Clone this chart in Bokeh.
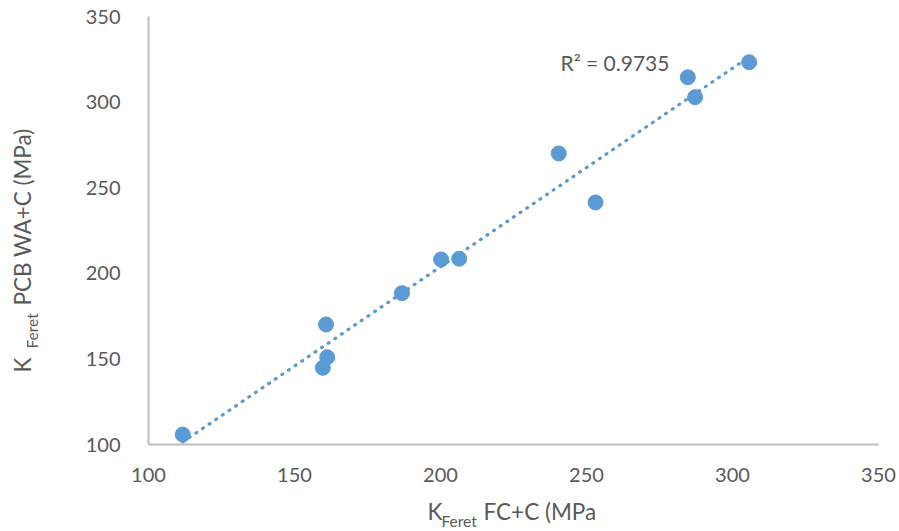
import numpy as np
from bokeh.plotting import figure
from bokeh.models import Range1d, FixedTicker, Label
from bokeh.layouts import row, column
from bokeh.core.properties import value
from bokeh.embed import file_html
from bokeh.resources import INLINE

# Data
kferet_fc = [111.7, 159.7, 161.2, 160.8, 186.8, 200.2, 206.4, 240.5, 253.1, 284.7, 287.2, 305.7]
kferet_pcb = [105.8, 144.8, 151.0, 170.1, 188.4, 208.1, 208.5, 270.0, 241.4, 314.5, 302.9, 323.3]
ticks = [100, 150, 200, 250, 300, 350]
r2_text = "R\u00b2 = 0.9735"
x_title = ["K", "Feret", "FC+C (MPa"]
y_title = ["K", "Feret", "PCB WA+C (MPa)"]

BLUE = "#5B9BD5"
GREY_TEXT = "#595959"
AXIS = "#BFBFBF"
FONT = "Lato"

TOTAL_W, TOTAL_H = 899, 531
YT_W = 50          # width of the y-title strip
XT_H = 41          # height of the x-title strip
MAIN_W = TOTAL_W - YT_W
MAIN_H = TOTAL_H - XT_H
FRAME_L, FRAME_R = 148, 878

p = figure(width=MAIN_W, height=MAIN_H, output_backend="svg", toolbar_location=None,
           x_range=Range1d(100, 350), y_range=Range1d(100, 350),
           min_border_left=FRAME_L - YT_W, min_border_right=TOTAL_W - FRAME_R,
           min_border_top=16, min_border_bottom=MAIN_H - 444)
p.outline_line_color = None
p.grid.visible = False

for ax in (p.xaxis[0], p.yaxis[0]):
    ax.ticker = FixedTicker(ticks=ticks)
    ax.axis_line_color = AXIS
    ax.axis_line_width = 2
    ax.major_tick_line_color = None
    ax.minor_tick_line_color = None
    ax.major_tick_out = 0
    ax.major_tick_in = 0
    ax.major_label_text_font = FONT
    ax.major_label_text_font_size = "20px"
    ax.major_label_text_color = GREY_TEXT
p.xaxis.major_label_standoff = 23
p.yaxis.major_label_standoff = 28

# trendline (linear least squares from the data)
xs = np.array(kferet_fc)
ys = np.array(kferet_pcb)
m, b = np.polyfit(xs, ys, 1)
tx = [xs.min(), xs.max()]
ty = [m * tx[0] + b, m * tx[1] + b]
p.line(tx, ty, line_color=BLUE, line_width=3.2, line_dash="1 7", line_cap="round")

p.scatter(kferet_fc, kferet_pcb, size=15, fill_color=BLUE, line_color=BLUE)

p.add_layout(Label(x=241.1, y=323.3, text=r2_text, text_font=FONT, text_font_size="21px",
                   text_color=GREY_TEXT, text_baseline="alphabetic", text_align="left"))


def strip(w, h, xr, yr):
    f = figure(width=w, height=h, output_backend="svg", toolbar_location=None,
               x_range=Range1d(*xr), y_range=Range1d(*yr),
               x_axis_location=None, y_axis_location=None,
               min_border=0, min_border_left=0, min_border_right=0,
               min_border_top=0, min_border_bottom=0)
    f.grid.visible = False
    f.outline_line_color = None
    return f


def put(f, x, y, t, size, angle=0.0):
    f.text(x=[x], y=[y], text=[t], angle=angle, text_font=value(FONT),
           text_font_size=value(size), text_color=GREY_TEXT,
           text_baseline="alphabetic", text_align="left")


# x-axis title strip: its frame lines up with the main frame (148..878)
xt = strip(MAIN_W, XT_H, (FRAME_L, FRAME_R), (0, XT_H))
put(xt, 427, 20, x_title[0], "22.5px")
put(xt, 441, 10.5, x_title[1], "15.5px")
put(xt, 483, 20, x_title[2], "22.5px")

# y-axis title strip (left)
yt = strip(YT_W, TOTAL_H, (0, YT_W), (0, TOTAL_H))
put(yt, 22, TOTAL_H - 372, y_title[0], "22.5px", np.pi / 2)
put(yt, 31.5, TOTAL_H - 348, y_title[1], "15.5px", np.pi / 2)
put(yt, 22, TOTAL_H - 305, y_title[2], "22.5px", np.pi / 2)

layout = row(yt, column(p, xt, spacing=0), spacing=0)

open("out.html", "w").write(file_html(layout, INLINE))
